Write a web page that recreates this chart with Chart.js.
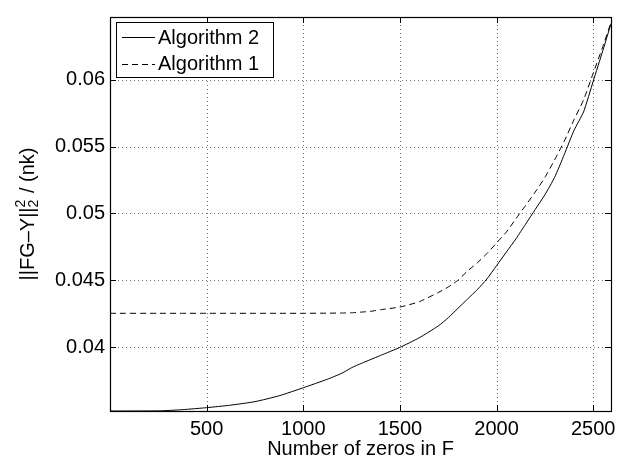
<!DOCTYPE html>
<html>
<head>
<meta charset="utf-8">
<script src="https://cdn.jsdelivr.net/npm/chart.js@4.4.1/dist/chart.umd.min.js"></script>
<style>
  body { margin: 0; background: #fff; }
  #wrap { width: 629px; height: 462px; }
</style>
</head>
<body>
<div id="wrap"><canvas id="myChart" width="629" height="462"></canvas></div>
<script>
// data
const zerosInF = [0, 250, 375, 500, 625, 750, 875, 1000, 1125, 1200, 1250, 1300, 1350, 1400, 1500, 1600, 1700, 1750, 1800,
  1850, 1900, 1950, 2000, 2050, 2100, 2150, 2200, 2250, 2300, 2350, 2400, 2450, 2500, 2550, 2592];
const algo2 = [0.03522, 0.03523, 0.03532, 0.03547, 0.03566, 0.03592, 0.03636, 0.03696, 0.03760, 0.03805, 0.03846, 0.03878, 0.03908, 0.03938, 0.03998,
  0.04070, 0.04160, 0.04220, 0.04290, 0.04360, 0.04430, 0.04510, 0.04610, 0.04710, 0.04810, 0.04920, 0.05030,
  0.05140, 0.05270, 0.05440, 0.05620, 0.05760, 0.05990, 0.06220, 0.06420];
const algo1 = [0.04253, 0.04253, 0.04253, 0.04253, 0.04253, 0.04253, 0.04253, 0.04253, 0.04254, 0.04255, 0.04257, 0.04262, 0.04268, 0.04280, 0.04300,
  0.04340, 0.04410, 0.04450, 0.04500, 0.04570, 0.04630, 0.04700, 0.04780, 0.04860, 0.04960, 0.05060, 0.05160,
  0.05270, 0.05400, 0.05540, 0.05700, 0.05850, 0.06050, 0.06250, 0.06430];
const seriesNames = ['Algorithm 2', 'Algorithm 1'];
const xTicks = [500, 1000, 1500, 2000, 2500];
const yTicks = [0.04, 0.045, 0.05, 0.055, 0.06];

const FONT = '"Liberation Sans", Arial, Helvetica, sans-serif';

const toPoints = ys => zerosInF.map((x, i) => ({ x: x, y: ys[i] }));

// matlab-ish frame: dotted grid, box, inward ticks, legend, y label
const matlabFrame = {
  id: 'matlabFrame',
  beforeDatasetsDraw(chart) {
    const { ctx, chartArea: a, scales } = chart;
    ctx.save();
    ctx.strokeStyle = 'rgba(0,0,0,0.55)';
    ctx.lineWidth = 1;
    ctx.setLineDash([1, 3]);
    xTicks.forEach(v => {
      const px = Math.round(scales.x.getPixelForValue(v)) + 0.5;
      ctx.beginPath(); ctx.moveTo(px, a.top); ctx.lineTo(px, a.bottom); ctx.stroke();
    });
    yTicks.forEach(v => {
      const py = Math.round(scales.y.getPixelForValue(v)) + 0.5;
      ctx.beginPath(); ctx.moveTo(a.left, py); ctx.lineTo(a.right, py); ctx.stroke();
    });
    ctx.restore();
  },
  afterDatasetsDraw(chart) {
    const { ctx, chartArea: a, scales } = chart;
    ctx.save();
    ctx.setLineDash([]);
    ctx.strokeStyle = '#000';
    ctx.lineWidth = 1.2;
    ctx.strokeRect(a.left + 0.5, a.top + 0.5, a.right - a.left, a.bottom - a.top);
    const tl = 6;
    ctx.lineWidth = 1;
    xTicks.forEach(v => {
      const px = Math.round(scales.x.getPixelForValue(v)) + 0.5;
      ctx.beginPath();
      ctx.moveTo(px, a.bottom); ctx.lineTo(px, a.bottom - tl);
      ctx.moveTo(px, a.top); ctx.lineTo(px, a.top + tl);
      ctx.stroke();
    });
    yTicks.forEach(v => {
      const py = Math.round(scales.y.getPixelForValue(v)) + 0.5;
      ctx.beginPath();
      ctx.moveTo(a.left, py); ctx.lineTo(a.left + tl, py);
      ctx.moveTo(a.right, py); ctx.lineTo(a.right - tl, py);
      ctx.stroke();
    });

    // legend box
    const lx = a.left + 6, ly = a.top + 5, lw = 157, lh = 55;
    ctx.fillStyle = '#fff';
    ctx.fillRect(lx, ly, lw, lh);
    ctx.strokeRect(lx + 0.5, ly + 0.5, lw, lh);
    ctx.font = '20px ' + FONT;
    ctx.textBaseline = 'middle';
    ctx.fillStyle = '#000';
    chart.data.datasets.forEach((ds, i) => {
      const cy = ly + 15 + i * 26.7;
      ctx.strokeStyle = ds.borderColor;
      ctx.lineWidth = 1;
      ctx.setLineDash(ds.borderDash || []);
      ctx.beginPath(); ctx.moveTo(lx + 6, Math.round(cy) + 0.5); ctx.lineTo(lx + 39, Math.round(cy) + 0.5); ctx.stroke();
      ctx.setLineDash([]);
      ctx.fillText(ds.label, lx + 42, cy + 1);
    });

    // y axis title with super/subscript
    ctx.translate(28, (a.top + a.bottom) / 2);
    ctx.rotate(-Math.PI / 2);
    ctx.textBaseline = 'alphabetic';
    const main = '20px ' + FONT, small = '14px ' + FONT;
    const p1 = '||FG\u2013Y||', p2 = ' / (nk)';
    ctx.font = main;
    const w1 = ctx.measureText(p1).width, w2 = ctx.measureText(p2).width;
    ctx.font = small;
    const ws = ctx.measureText('2').width + 1;
    let x = -(w1 + ws + w2) / 2;
    const base = 6;
    ctx.font = main; ctx.fillText(p1, x, base); x += w1;
    ctx.font = small; ctx.fillText('2', x, base - 9); ctx.fillText('2', x, base + 4); x += ws;
    ctx.font = main; ctx.fillText(p2, x, base);
    ctx.restore();
  }
};

const ctx = document.getElementById('myChart').getContext('2d');
window._myChart = new Chart(ctx, {
  type: 'line',
  data: {
    datasets: [
      { label: seriesNames[0], data: toPoints(algo2), borderColor: '#000', borderWidth: 1, pointRadius: 0, tension: 0.2, fill: false },
      { label: seriesNames[1], data: toPoints(algo1), borderColor: '#000', borderWidth: 1, borderDash: [6, 4], pointRadius: 0, tension: 0.2, fill: false }
    ]
  },
  options: {
    responsive: false,
    animation: false,
    layout: { padding: { top: 3, right: 18, left: 0, bottom: 0 } },
    plugins: { legend: { display: false }, tooltip: { enabled: false } },
    scales: {
      x: {
        type: 'linear',
        min: 0,
        max: 2592,
        afterBuildTicks: s => { s.ticks = xTicks.map(v => ({ value: v })); },
        afterFit: s => { s.height = 51; },
        grid: { display: false, drawTicks: false },
        border: { display: false },
        ticks: { color: '#000', font: { family: FONT, size: 20 }, padding: 6, maxRotation: 0, autoSkip: false, callback: v => String(v) },
        title: { display: true, text: 'Number of zeros in F', color: '#000', font: { family: FONT, size: 20 }, padding: { top: 0, bottom: 1 } }
      },
      y: {
        min: 0.03522,
        max: 0.0647,
        afterBuildTicks: s => { s.ticks = yTicks.map(v => ({ value: v })); },
        afterFit: s => { s.width = 110; },
        grid: { display: false, drawTicks: false },
        border: { display: false },
        ticks: { color: '#000', font: { family: FONT, size: 20 }, padding: 5, autoSkip: false, callback: v => String(v) }
      }
    }
  },
  plugins: [matlabFrame]
});
</script>
</body>
</html>
